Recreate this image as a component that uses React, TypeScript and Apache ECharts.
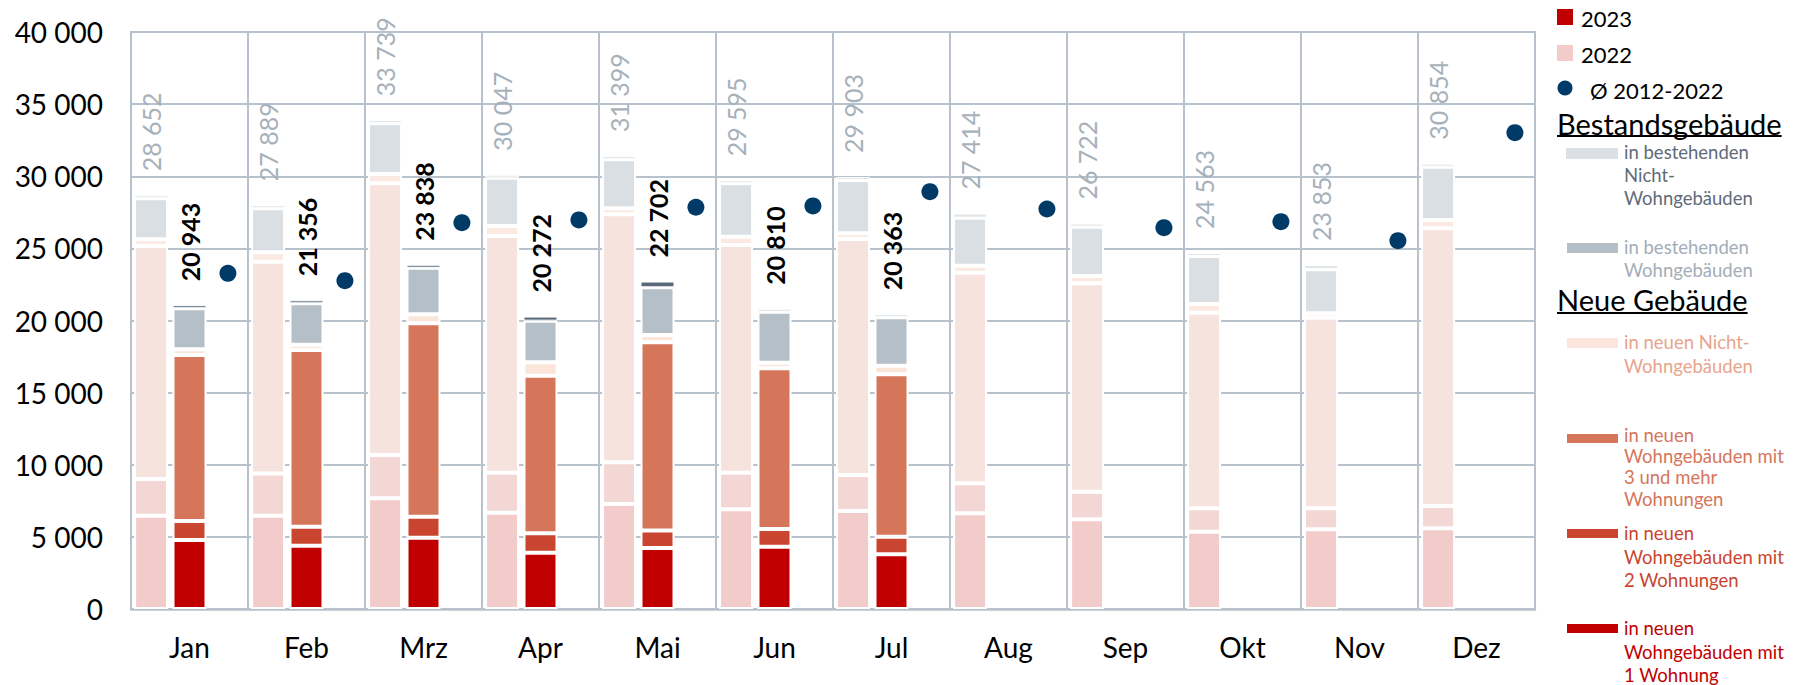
import React, { useEffect, useRef } from 'react';
import * as echarts from 'echarts';

const months = ['Jan', 'Feb', 'Mrz', 'Apr', 'Mai', 'Jun', 'Jul', 'Aug', 'Sep', 'Okt', 'Nov', 'Dez'];
const yTicks = [0, 5000, 10000, 15000, 20000, 25000, 30000, 35000, 40000];

// 2022 segments (bottom to top)
const y22_1w = [6470, 6470, 7670, 6680, 7280, 6910, 6795, 6630, 6215, 5360, 5525, 5595];
const y22_2w = [2540, 2930, 3010, 2770, 2890, 2540, 2495, 2080, 1920, 1620, 1455, 1545];
const y22_3p = [16150, 14680, 18830, 16410, 17190, 15785, 16360, 14605, 14445, 13560, 13215, 19250];
const y22_nwg = [470, 650, 645, 690, 420, 575, 395, 485, 505, 605, 305, 580];
const y22_bwg = [2840, 3050, 3525, 3350, 3395, 3700, 3695, 3330, 3420, 3325, 3050, 3695];
const y22_bnwg = [182, 109, 59, 147, 224, 85, 163, 284, 217, 93, 303, 189];
const total22 = [28652, 27889, 33739, 30047, 31399, 29595, 29903, 27414, 26722, 24563, 23853, 30854];

// 2023 segments (bottom to top)
const y23_1w = [4780, 4390, 4940, 3900, 4230, 4320, 3790, null, null, null, null, null];
const y23_2w = [1320, 1320, 1460, 1350, 1220, 1225, 1220, null, null, null, null, null];
const y23_3p = [11500, 12240, 13405, 10925, 13040, 11140, 11260, null, null, null, null, null];
const y23_nwg = [400, 370, 625, 925, 505, 390, 600, null, null, null, null, null];
const y23_bwg = [2850, 2870, 3230, 2890, 3305, 3535, 3350, null, null, null, null, null];
const y23_bnwg = [93, 166, 178, 282, 402, 200, 143, null, null, null, null, null];
const total23 = [20943, 21356, 23838, 20272, 22702, 20810, 20363, null, null, null, null, null];

// Average 2012-2022
const avg = [23270, 22760, 26780, 26970, 27850, 27940, 28930, 27730, 26435, 26850, 25530, 33020];

const C22 = ['#F2CBCB', '#F3D7D4', '#F7E3DE', '#FBE9E2', '#DADFE3', '#E2E5E8'];
const C23 = ['#C00000', '#C9452F', '#D5765A', '#FBE4D8', '#B5BFC7', '#58697A'];
const C23_TOP_LIGHT = '#DCE0E4';
const GRID = '#B8C2CC';
const FONT = 'Lato, "Open Sans", sans-serif';

const fmt = (v: number) => String(v).replace(/\B(?=(\d{3})+(?!\d))/g, ' ');

function measure(text: string, font: string) {
  const c = document.createElement('canvas').getContext('2d');
  if (!c) return text.length * 14;
  c.font = font;
  return c.measureText(text).width;
}

export default function App() {
  const ref = useRef<HTMLDivElement>(null);
  useEffect(() => {
    if (!ref.current) return;
    const chart = echarts.init(ref.current, null, { renderer: 'svg' });

    const BW = 34;
    const seg = (name: string, stack: string, data: any[], color: string, extra: any = {}) => ({
      type: 'bar',
      name,
      stack,
      data,
      barWidth: BW,
      barGap: '13%',
      itemStyle: { color, borderColor: '#ffffff', borderWidth: 2 },
      emphasis: { disabled: true },
      ...extra,
    });

    const top23Data = y23_bnwg.map((v, i) =>
      v == null ? null : { value: v, itemStyle: { color: i >= 5 ? C23_TOP_LIGHT : C23[5] } }
    );

    const headFont = '29px Lato';
    const wBestand = measure('Bestandsgebäude', headFont);
    const wNeue = measure('Neue Gebäude', headFont);

    const small = (x: number, yFirstCenter: number, lh: number, text: string, fill: string) => ({
      type: 'text',
      x,
      y: yFirstCenter - lh / 2,
      style: { text, fill, font: `18.5px ${FONT}`, lineHeight: lh, verticalAlign: 'top', align: 'left' },
    });

    const option: any = {
      animation: false,
      grid: {
        left: 131,
        right: 264,
        top: 32,
        bottom: 76,
        show: true,
        borderColor: GRID,
        borderWidth: 2,
        containLabel: false,
      },
      xAxis: {
        type: 'category',
        data: months,
        axisLine: { show: true, lineStyle: { color: GRID, width: 2.5 } },
        axisTick: { show: false },
        axisLabel: { color: '#000', fontSize: 28, fontFamily: FONT, margin: 24 },
        splitLine: { show: true, interval: 0, lineStyle: { color: GRID, width: 2 } },
      },
      yAxis: {
        type: 'value',
        min: yTicks[0],
        max: yTicks[yTicks.length - 1],
        interval: 5000,
        axisLine: { show: false },
        axisTick: { show: false },
        axisLabel: { color: '#000', fontSize: 28, fontFamily: FONT, margin: 28, formatter: (v: number) => fmt(v) },
        splitLine: { show: true, lineStyle: { color: GRID, width: 2 } },
      },
      series: [
        seg('2022 1W', 'a', y22_1w, C22[0]),
        seg('2022 2W', 'a', y22_2w, C22[1]),
        seg('2022 3+', 'a', y22_3p, C22[2]),
        seg('2022 NWG neu', 'a', y22_nwg, C22[3]),
        seg('2022 WG best', 'a', y22_bwg, C22[4]),
        seg('2022 NWG best', 'a', y22_bnwg, C22[5], {
          barMinHeight: 3,
          itemStyle: { color: C22[5], borderColor: '#ffffff', borderWidth: 1 },
          label: {
            show: true,
            position: 'top',
            distance: 24,
            rotate: 90,
            align: 'left',
            verticalAlign: 'middle',
            color: '#A7B1BA',
            fontSize: 25,
            fontFamily: FONT,
            formatter: (p: any) => fmt(total22[p.dataIndex]),
          },
        }),
        seg('2023 1W', 'b', y23_1w, C23[0]),
        seg('2023 2W', 'b', y23_2w, C23[1]),
        seg('2023 3+', 'b', y23_3p, C23[2]),
        seg('2023 NWG neu', 'b', y23_nwg, C23[3]),
        seg('2023 WG best', 'b', y23_bwg, C23[4]),
        seg('2023 NWG best', 'b', top23Data, C23[5], {
          barMinHeight: 3,
          itemStyle: { color: C23[5], borderColor: '#ffffff', borderWidth: 1 },
          label: {
            show: true,
            position: 'top',
            distance: 24,
            rotate: 90,
            align: 'left',
            verticalAlign: 'middle',
            color: '#000',
            fontSize: 25,
            fontWeight: 'bold',
            fontFamily: FONT,
            formatter: (p: any) => (total23[p.dataIndex] == null ? '' : fmt(total23[p.dataIndex] as number)),
          },
        }),
        // slot reserved for the average dots
        {
          type: 'bar',
          stack: 'c',
          data: avg,
          barWidth: BW,
          barGap: '13%',
          silent: true,
          itemStyle: { color: 'rgba(0,0,0,0)' },
        },
        {
          type: 'scatter',
          name: 'Ø 2012-2022',
          data: avg,
          symbol: 'circle',
          symbolSize: 17,
          symbolOffset: [BW * 1.13, 0],
          itemStyle: { color: '#003A66', opacity: 1 },
          z: 5,
        },
      ],
      graphic: [
        { type: 'rect', shape: { x: 1557, y: 9, width: 16, height: 16 }, style: { fill: '#C00000' } },
        { type: 'text', x: 1581, y: 18, style: { text: '2023', fill: '#000', font: `22px ${FONT}`, verticalAlign: 'middle' } },
        { type: 'rect', shape: { x: 1557, y: 45, width: 16, height: 16 }, style: { fill: '#F2CBCB' } },
        { type: 'text', x: 1581, y: 54, style: { text: '2022', fill: '#000', font: `22px ${FONT}`, verticalAlign: 'middle' } },
        { type: 'circle', shape: { cx: 1565, cy: 88, r: 7.5 }, style: { fill: '#003A66' } },
        { type: 'text', x: 1590, y: 90, style: { text: 'Ø 2012-2022', fill: '#000', font: `22px ${FONT}`, verticalAlign: 'middle' } },

        { type: 'text', x: 1557, y: 123, style: { text: 'Bestandsgebäude', fill: '#000', font: `29px ${FONT}`, verticalAlign: 'middle' } },
        { type: 'line', shape: { x1: 1557, y1: 136, x2: 1557 + wBestand, y2: 136 }, style: { stroke: '#000', lineWidth: 2 } },
        { type: 'rect', shape: { x: 1566, y: 148, width: 52, height: 11 }, style: { fill: '#DCE0E4' } },
        small(1624, 152, 23, 'in bestehenden\nNicht-\nWohngebäuden', '#5F6B78'),
        { type: 'rect', shape: { x: 1567, y: 243, width: 51, height: 10 }, style: { fill: '#B5BFC8' } },
        small(1624, 247, 23, 'in bestehenden\nWohngebäuden', '#A3ADB7'),

        { type: 'text', x: 1557, y: 299, style: { text: 'Neue Gebäude', fill: '#000', font: `29px ${FONT}`, verticalAlign: 'middle' } },
        { type: 'line', shape: { x1: 1557, y1: 313, x2: 1557 + wNeue, y2: 313 }, style: { stroke: '#000', lineWidth: 2 } },
        { type: 'rect', shape: { x: 1567, y: 338, width: 51, height: 10 }, style: { fill: '#FBE5DC' } },
        small(1624, 342, 23.5, 'in neuen Nicht-\nWohngebäuden', '#E8A48C'),
        { type: 'rect', shape: { x: 1567, y: 434, width: 51, height: 9 }, style: { fill: '#D5765A' } },
        small(1624, 435, 21.2, 'in neuen\nWohngebäuden mit\n3 und mehr\nWohnungen', '#D5765A'),
        { type: 'rect', shape: { x: 1567, y: 529, width: 51, height: 9 }, style: { fill: '#C9452F' } },
        small(1624, 533, 23.7, 'in neuen\nWohngebäuden mit\n2 Wohnungen', '#C9452F'),
        { type: 'rect', shape: { x: 1567, y: 624, width: 51, height: 9 }, style: { fill: '#C00000' } },
        small(1624, 628, 23.7, 'in neuen\nWohngebäuden mit\n1 Wohnung', '#C00000'),

        {
          type: 'text',
          x: 640,
          y: 681,
          style: {
            text: '*      Baugenehmigte Wohnungen in neuen Wohn- und Nicht-Wohngebäuden sowie in',
            fill: '#000',
            font: `20px ${FONT}`,
            verticalAlign: 'top',
          },
        },
      ],
    };

    chart.setOption(option);
    return () => chart.dispose();
  }, []);

  return (
    <div
      ref={ref}
      style={{ position: 'fixed', left: 0, top: 0, width: 1799, height: 685, background: '#ffffff' }}
    />
  );
}
